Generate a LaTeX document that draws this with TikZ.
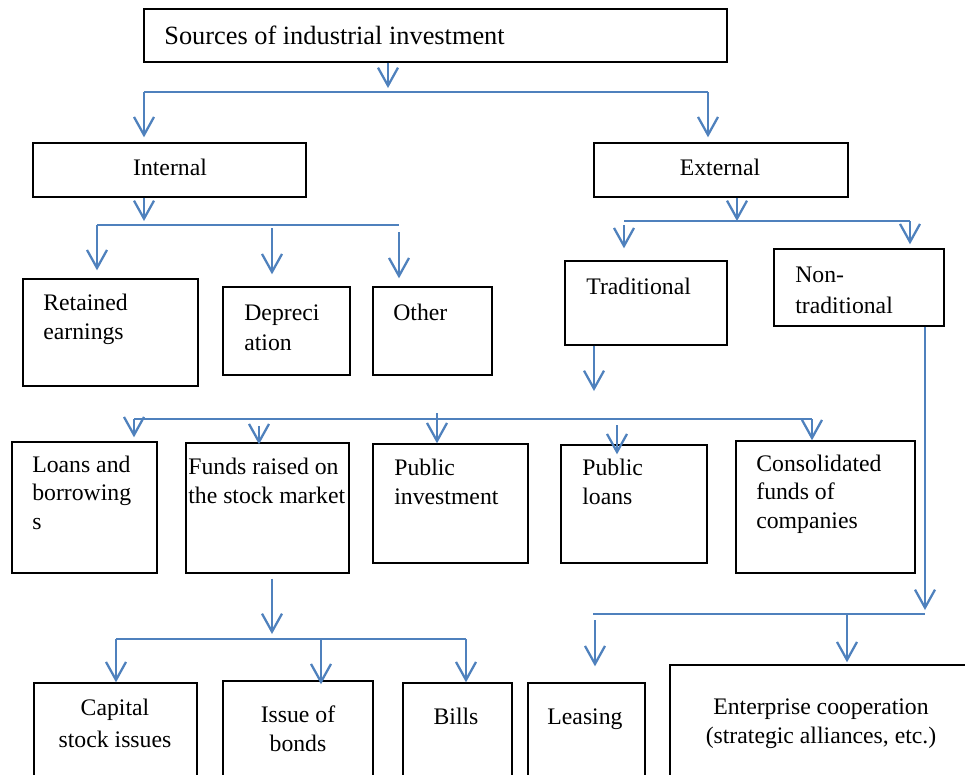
\documentclass[tikz,border=0pt]{standalone}
\usepackage{fontspec}
\setmainfont{Liberation Serif}
\usetikzlibrary{positioning, arrows.meta, fit}
\definecolor{linkblue}{RGB}{79,129,189}

\tikzset{
    box/.style={draw=black, line width=0.8pt, rectangle, inner sep=0pt},
    lbl/.style={inner sep=0pt, align=left, font=\fontsize{13.5}{16}\selectfont},
    clbl/.style={lbl, align=center, anchor=base},
    link/.style={draw=linkblue, line width=1.3pt},
    arr/.style={link, -{Straight Barb[length=0.36cm, width=0.4cm, line width=1.3pt]}}
}

\begin{document}
\begin{tikzpicture}[x=0.02cm, y=-0.02cm]
    % Frame
    \clip (0,0) rectangle (965,775);

    % Boxes
    \node[box, fit={(144,9) (727,62)}] (top) {};
    \node[box, fit={(33,143) (306,197)}] (int) {};
    \node[box, fit={(594,143) (848,197)}] (ext) {};
    \node[box, fit={(23,279) (198,386)}] (ret) {};
    \node[box, fit={(223,287) (350,375)}] (dep) {};
    \node[box, fit={(373,287) (492,375)}] (oth) {};
    \node[box, fit={(565,261) (727,345)}] (trad) {};
    \node[box, fit={(774,249) (944,326)}] (nontrad) {};
    \node[box, fit={(12,442) (157,573)}] (loans) {};
    \node[box, fit={(186,443) (349,573)}] (funds) {};
    \node[box, fit={(373,444) (528,563)}] (pinv) {};
    \node[box, fit={(561,445) (707,563)}] (ploans) {};
    \node[box, fit={(736,441) (915,573)}] (cons) {};
    \node[box, fit={(34,683) (197,800)}] (cap) {};
    \node[box, fit={(223,681) (373,800)}] (bonds) {};
    \node[box, fit={(403,683) (512,800)}] (bills) {};
    \node[box, fit={(528,683) (645,800)}] (leas) {};
    \node[box, fit={(670,665) (990,800)}] (coop) {};

    % Labels (base = baseline of the last line)
    \node[lbl, anchor=base west, font=\fontsize{15}{18}\selectfont] (topT) at (164,44) {Sources of industrial investment};
    \node[clbl] (intT) at (170,175) {Internal};
    \node[clbl] (extT) at (720,175) {External};
    \node[lbl, anchor=base west] (retT) at (43,339) {Retained\\earnings};
    \node[lbl, anchor=base west] (depT) at (244,350) {Depreci\\[1pt]ation};
    \node[lbl, anchor=base west] (othT) at (393,320) {Other};
    \node[lbl, anchor=base west] (tradT) at (586,294) {Traditional};
    \node[lbl, anchor=base west] (nontradT) at (795,313) {Non-\\[1.5pt]traditional};
    \node[lbl, anchor=base west] (loansT) at (32,529) {Loans and\\borrowing\\s};
    \node[lbl, anchor=base west] (fundsT) at (188,503) {Funds raised on\\the stock market};
    \node[lbl, anchor=base west] (pinvT) at (394,504) {Public\\investment};
    \node[lbl, anchor=base west] (ploansT) at (582,504) {Public\\loans};
    \node[lbl, anchor=base west] (consT) at (756,528) {Consolidated\\funds of\\companies};
    \node[clbl] (capT) at (115,747) {Capital\\[2pt]stock issues};
    \node[clbl] (bondsT) at (298,751) {Issue of\\bonds};
    \node[clbl] (billsT) at (456,724) {Bills};
    \node[clbl] (leasT) at (585,724) {Leasing};
    \node[clbl] (coopT) at (821,743) {Enterprise cooperation\\(strategic alliances, etc.)};

    % Sources -> Internal / External
    \coordinate (j1) at (388,92);
    \coordinate (j1l) at (144,92);
    \coordinate (j1r) at (708,92);
    \draw[arr, shorten >=0.08cm] (top.south -| j1) -- (j1);
    \draw[link] (j1l) -- (j1r);
    \draw[arr, shorten >=0.1cm] (j1l) -- (int.north -| j1l);
    \draw[arr, shorten >=0.1cm] (j1r) -- (ext.north -| j1r);

    % Internal branches
    \coordinate (j2) at (144,225);
    \coordinate (j2l) at (97,225);
    \coordinate (j2r) at (399,225);
    \coordinate (j2m) at (272,228);
    \coordinate (j2o) at (399,232);
    \draw[arr, shorten >=0.08cm] (int.south -| j2) -- (j2);
    \draw[link] (j2l) -- (j2r);
    \draw[arr, shorten >=0.16cm] (j2l) -- (ret.north -| j2l);
    \draw[arr, shorten >=0.24cm] (j2m) -- (dep.north -| j2m);
    \draw[arr, shorten >=0.16cm] (j2o) -- (oth.north -| j2o);

    % External branches
    \coordinate (j3) at (737,221);
    \coordinate (j3l) at (624,221);
    \coordinate (j3r) at (910,221);
    \coordinate (j3t) at (624,225);
    \draw[arr] (ext.south -| j3) -- (j3);
    \draw[link] (j3l) -- (j3r);
    \draw[arr, shorten >=0.24cm] (j3t) -- (trad.north -| j3t);
    \draw[arr, shorten >=0.08cm] (j3r) -- (nontrad.north -| j3r);

    % Traditional branches
    \coordinate (j4) at (594,419);
    \coordinate (j4l) at (134,419);
    \coordinate (j4r) at (812,419);
    \coordinate (j4f) at (259,426);
    \coordinate (j4i) at (437,413);
    \coordinate (j4p) at (617,425);
    \draw[arr, shorten >=0.56cm] (trad.south -| j4) -- (j4);
    \draw[link] (j4l) -- (j4r);
    \draw[arr, shorten >=0.08cm] (j4l) -- (loans.north -| j4l);
    \draw[arr, shorten >=-0.04cm] (j4f) -- (funds.north -| j4f);
    \draw[arr] (j4i) -- (pinv.north -| j4i);
    \draw[arr, shorten >=-0.2cm] (j4p) -- (ploans.north -| j4p);
    \draw[arr] (j4r) -- (cons.north -| j4r);

    % Non-traditional branches
    \coordinate (j5) at (925,614);
    \coordinate (j5l) at (593,614);
    \coordinate (j5s) at (595,620);
    \coordinate (j5c) at (847,614);
    \draw[arr, shorten >=0.08cm] (nontrad.south -| j5) -- (j5);
    \draw[link] (j5l) -- (j5);
    \draw[arr, shorten >=0.32cm] (j5s) -- (leas.north -| j5s);
    \draw[arr, shorten >=0.04cm] (j5c) -- (coop.north -| j5c);

    % Stock market branches
    \coordinate (j6) at (272,639);
    \coordinate (j6l) at (116,639);
    \coordinate (j6r) at (466,639);
    \coordinate (j6m) at (321,639);
    \draw[arr, shorten <=0.1cm, shorten >=0.1cm] (funds.south -| j6) -- (j6);
    \draw[link] (j6l) -- (j6r);
    \draw[arr] (j6l) -- (cap.north -| j6l);
    \draw[arr, shorten >=-0.08cm] (j6m) -- (bonds.north -| j6m);
    \draw[arr] (j6r) -- (bills.north -| j6r);
\end{tikzpicture}
\end{document}
